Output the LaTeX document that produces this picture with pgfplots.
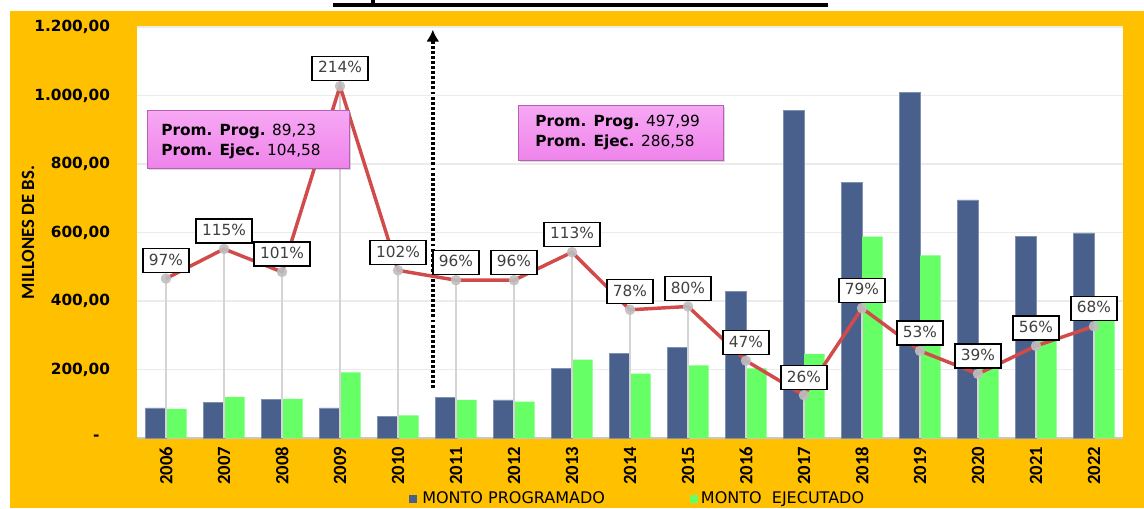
\documentclass[border=0pt]{standalone}
\usepackage{fontspec}
\setmainfont{DejaVu Sans}
\newfontfamily\carlito{Carlito}
\usepackage{pgfplots}
\pgfplotsset{compat=1.18}
\usetikzlibrary{arrows.meta,shadows}

\definecolor{orangebg}{HTML}{FFC000}
\definecolor{prog}{HTML}{4A608C}
\definecolor{ejec}{HTML}{66FF66}
\definecolor{linered}{HTML}{D24B4B}
\definecolor{markgray}{HTML}{BFBFBF}
\definecolor{dropgray}{HTML}{D4D4D4}
\definecolor{labeltext}{HTML}{404040}
\definecolor{pinktop}{HTML}{F7A8F4}
\definecolor{pinkbot}{HTML}{EF84EB}
\definecolor{pinkedge}{HTML}{B860B4}

\begin{document}
\begin{tikzpicture}[x=0.75pt,y=-0.75pt]
\useasboundingbox (0,0) rectangle (1144,508);
\fill[white] (0,0) rectangle (1144,508);
\fill[orangebg] (10,11) rectangle (1144,508);
% cut-off title underline
\fill[black] (333,3) rectangle (828,7);
\fill[black] (371,0) rectangle (375,3);

\begin{axis}[
  at={(102.75pt,-328.5pt)}, anchor=south west, scale only axis,
  width=739.5pt, height=308.25pt,
  axis background/.style={fill=white},
  xmin=-0.5, xmax=16.5, ymin=0, ymax=1200,
  ybar=0pt, bar width=15.5pt,
  xtick={0,...,16},
  xticklabels={2006,2007,2008,2009,2010,2011,2012,2013,2014,2015,2016,2017,2018,2019,2020,2021,2022},
  x tick label style={rotate=90, anchor=east, font=\carlito\bfseries\fontsize{14}{14}\selectfont, xshift=-3pt},
  ytick={0,200,400,600,800,1000,1200},
  yticklabels={{-\hspace*{8pt}},{200,00},{400,00},{600,00},{800,00},{1.000,00},{1.200,00}},
  y tick label style={font=\bfseries\fontsize{11.5}{12}\selectfont, inner sep=0pt, xshift=-20pt},
  major tick length=0pt,
  ymajorgrids, grid style={draw=black!8, line width=0.8pt},
  axis x line*=bottom, axis y line*=left,
  x axis line style={draw=black!22, line width=1.5pt},
  y axis line style={draw=none},
  ylabel={MILLONES DE BS.},
  ylabel style={font=\carlito\bfseries\fontsize{14}{14}\selectfont, at={(axis description cs:-0.1105,0.5)}, anchor=center},
  legend columns=2,
  legend style={draw=none, fill=none, font=\fontsize{12}{14}\selectfont,
    at={(0.508,-0.1480)}, anchor=center,
    /tikz/every even column/.append style={column sep=62pt}},
  legend image code/.code={\fill[#1,draw=none] (0pt,-3pt) rectangle (6pt,3pt);},
  clip=false,
]
\addplot[fill=prog, draw=prog!70!white, line width=0.4pt] coordinates {
  (0,88) (1,104) (2,113) (3,88) (4,64) (5,118) (6,111) (7,203) (8,246)
  (9,265) (10,429) (11,957) (12,747) (13,1009) (14,695) (15,588) (16,599)
};
\addlegendentry{\hspace*{2pt}MONTO PROGRAMADO}
\addplot[fill=ejec, draw=none] coordinates {
  (0,85) (1,120) (2,114) (3,192) (4,66) (5,111) (6,106) (7,229) (8,188)
  (9,212) (10,203) (11,246) (12,588) (13,533) (14,271) (15,329) (16,407)
};
\addlegendentry{MONTO\ \ EJECUTADO}
\draw[line width=3pt, dash pattern=on 2.2pt off 1.6pt, -{Latex[length=9pt,width=10pt]}]
  (axis cs:4.6,145) -- (axis cs:4.6,1192);
\end{axis}

\begin{axis}[
  at={(102.75pt,-328.5pt)}, anchor=south west, scale only axis,
  width=739.5pt, height=308.25pt,
  xmin=-0.5, xmax=16.5, ymin=0, ymax=250,
  hide axis, clip=false,
  /pgf/number format/assume math mode=true,
]
\addplot[ycomb, draw=dropgray, line width=1.1pt, no markers] coordinates {
  (0,97) (1,115) (2,101) (3,214) (4,102) (5,96) (6,96) (7,113) (8,78)
  (9,80) (10,47) (11,26) (12,79) (13,53) (14,39) (15,56) (16,68)
};
\addplot[draw=linered, line width=2.6pt, mark=*, mark size=3.8pt,
  mark options={solid, draw=markgray, fill=markgray, line width=0.2pt, opacity=0.9},
  nodes near coords={\pgfmathprintnumber[fixed,precision=0,assume math mode=true]{\pgfplotspointmeta}\%},
  every node near coord/.append style={draw=black, fill=white, text=labeltext, opacity=1,
    line width=0.9pt, font=\fontsize{11.5}{12}\selectfont, anchor=south,
    yshift=4pt, inner xsep=4.5pt, inner ysep=4pt, text height=8.5pt, text depth=1.5pt},
] coordinates {
  (0,97) (1,115) (2,101) (3,214) (4,102) (5,96) (6,96) (7,113) (8,78)
  (9,80) (10,47) (11,26) (12,79) (13,53) (14,39) (15,56) (16,68)
};
\end{axis}

% average boxes
\path[draw=pinkedge, line width=0.6pt, top color=pinktop, bottom color=pinkbot,
  drop shadow={opacity=0.3, shadow xshift=1.5pt, shadow yshift=-1.5pt}]
  (147,110) rectangle (349,168);
\node[anchor=west, inner sep=0pt, font=\fontsize{11.5}{12}\selectfont] at (161,131) {\textbf{Prom. Prog.} 89,23};
\node[anchor=west, inner sep=0pt, font=\fontsize{11.5}{12}\selectfont] at (161,151) {\textbf{Prom. Ejec.} 104,58};
\path[draw=pinkedge, line width=0.6pt, top color=pinktop, bottom color=pinkbot,
  drop shadow={opacity=0.3, shadow xshift=1.5pt, shadow yshift=-1.5pt}]
  (518,105) rectangle (723,160);
\node[anchor=west, inner sep=0pt, font=\fontsize{11.5}{12}\selectfont] at (535,122) {\textbf{Prom. Prog.} 497,99};
\node[anchor=west, inner sep=0pt, font=\fontsize{11.5}{12}\selectfont] at (535,142) {\textbf{Prom. Ejec.} 286,58};
\end{tikzpicture}
\end{document}
